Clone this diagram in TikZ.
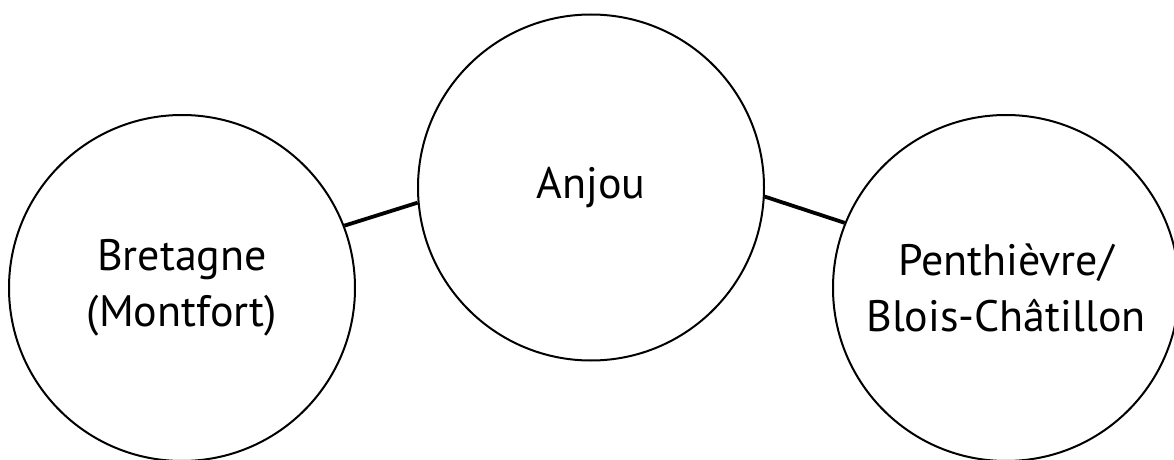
\documentclass[tikz,border=0pt]{standalone}
\usepackage{fontspec}
\setmainfont{PT Sans}
\usepackage{tikz}

\begin{document}
\begin{tikzpicture}[x=0.5pt, y=-0.5pt,
		house/.style={draw, circle, line width=1pt, minimum size=173pt, inner sep=0pt,
			align=center, font=\fontsize{22}{28}\selectfont},
		link/.style={line width=1.9pt}]
			
			\useasboundingbox (0, 0) rectangle (1174, 460);
			
			\node [house] (bre) at (182, 288) {Bretagne\\(Montfort)};
			\node [house] (anj) at (591, 187.5) {Anjou};
			\node [house] (pen) at (1006, 288) {Penthièvre/\\Blois-Châtillon};
			
			\draw [link] (bre.21) -- (anj.185);
			\draw [link] (anj.-3.5) -- (pen.158);
			
\end{tikzpicture}
\end{document}
